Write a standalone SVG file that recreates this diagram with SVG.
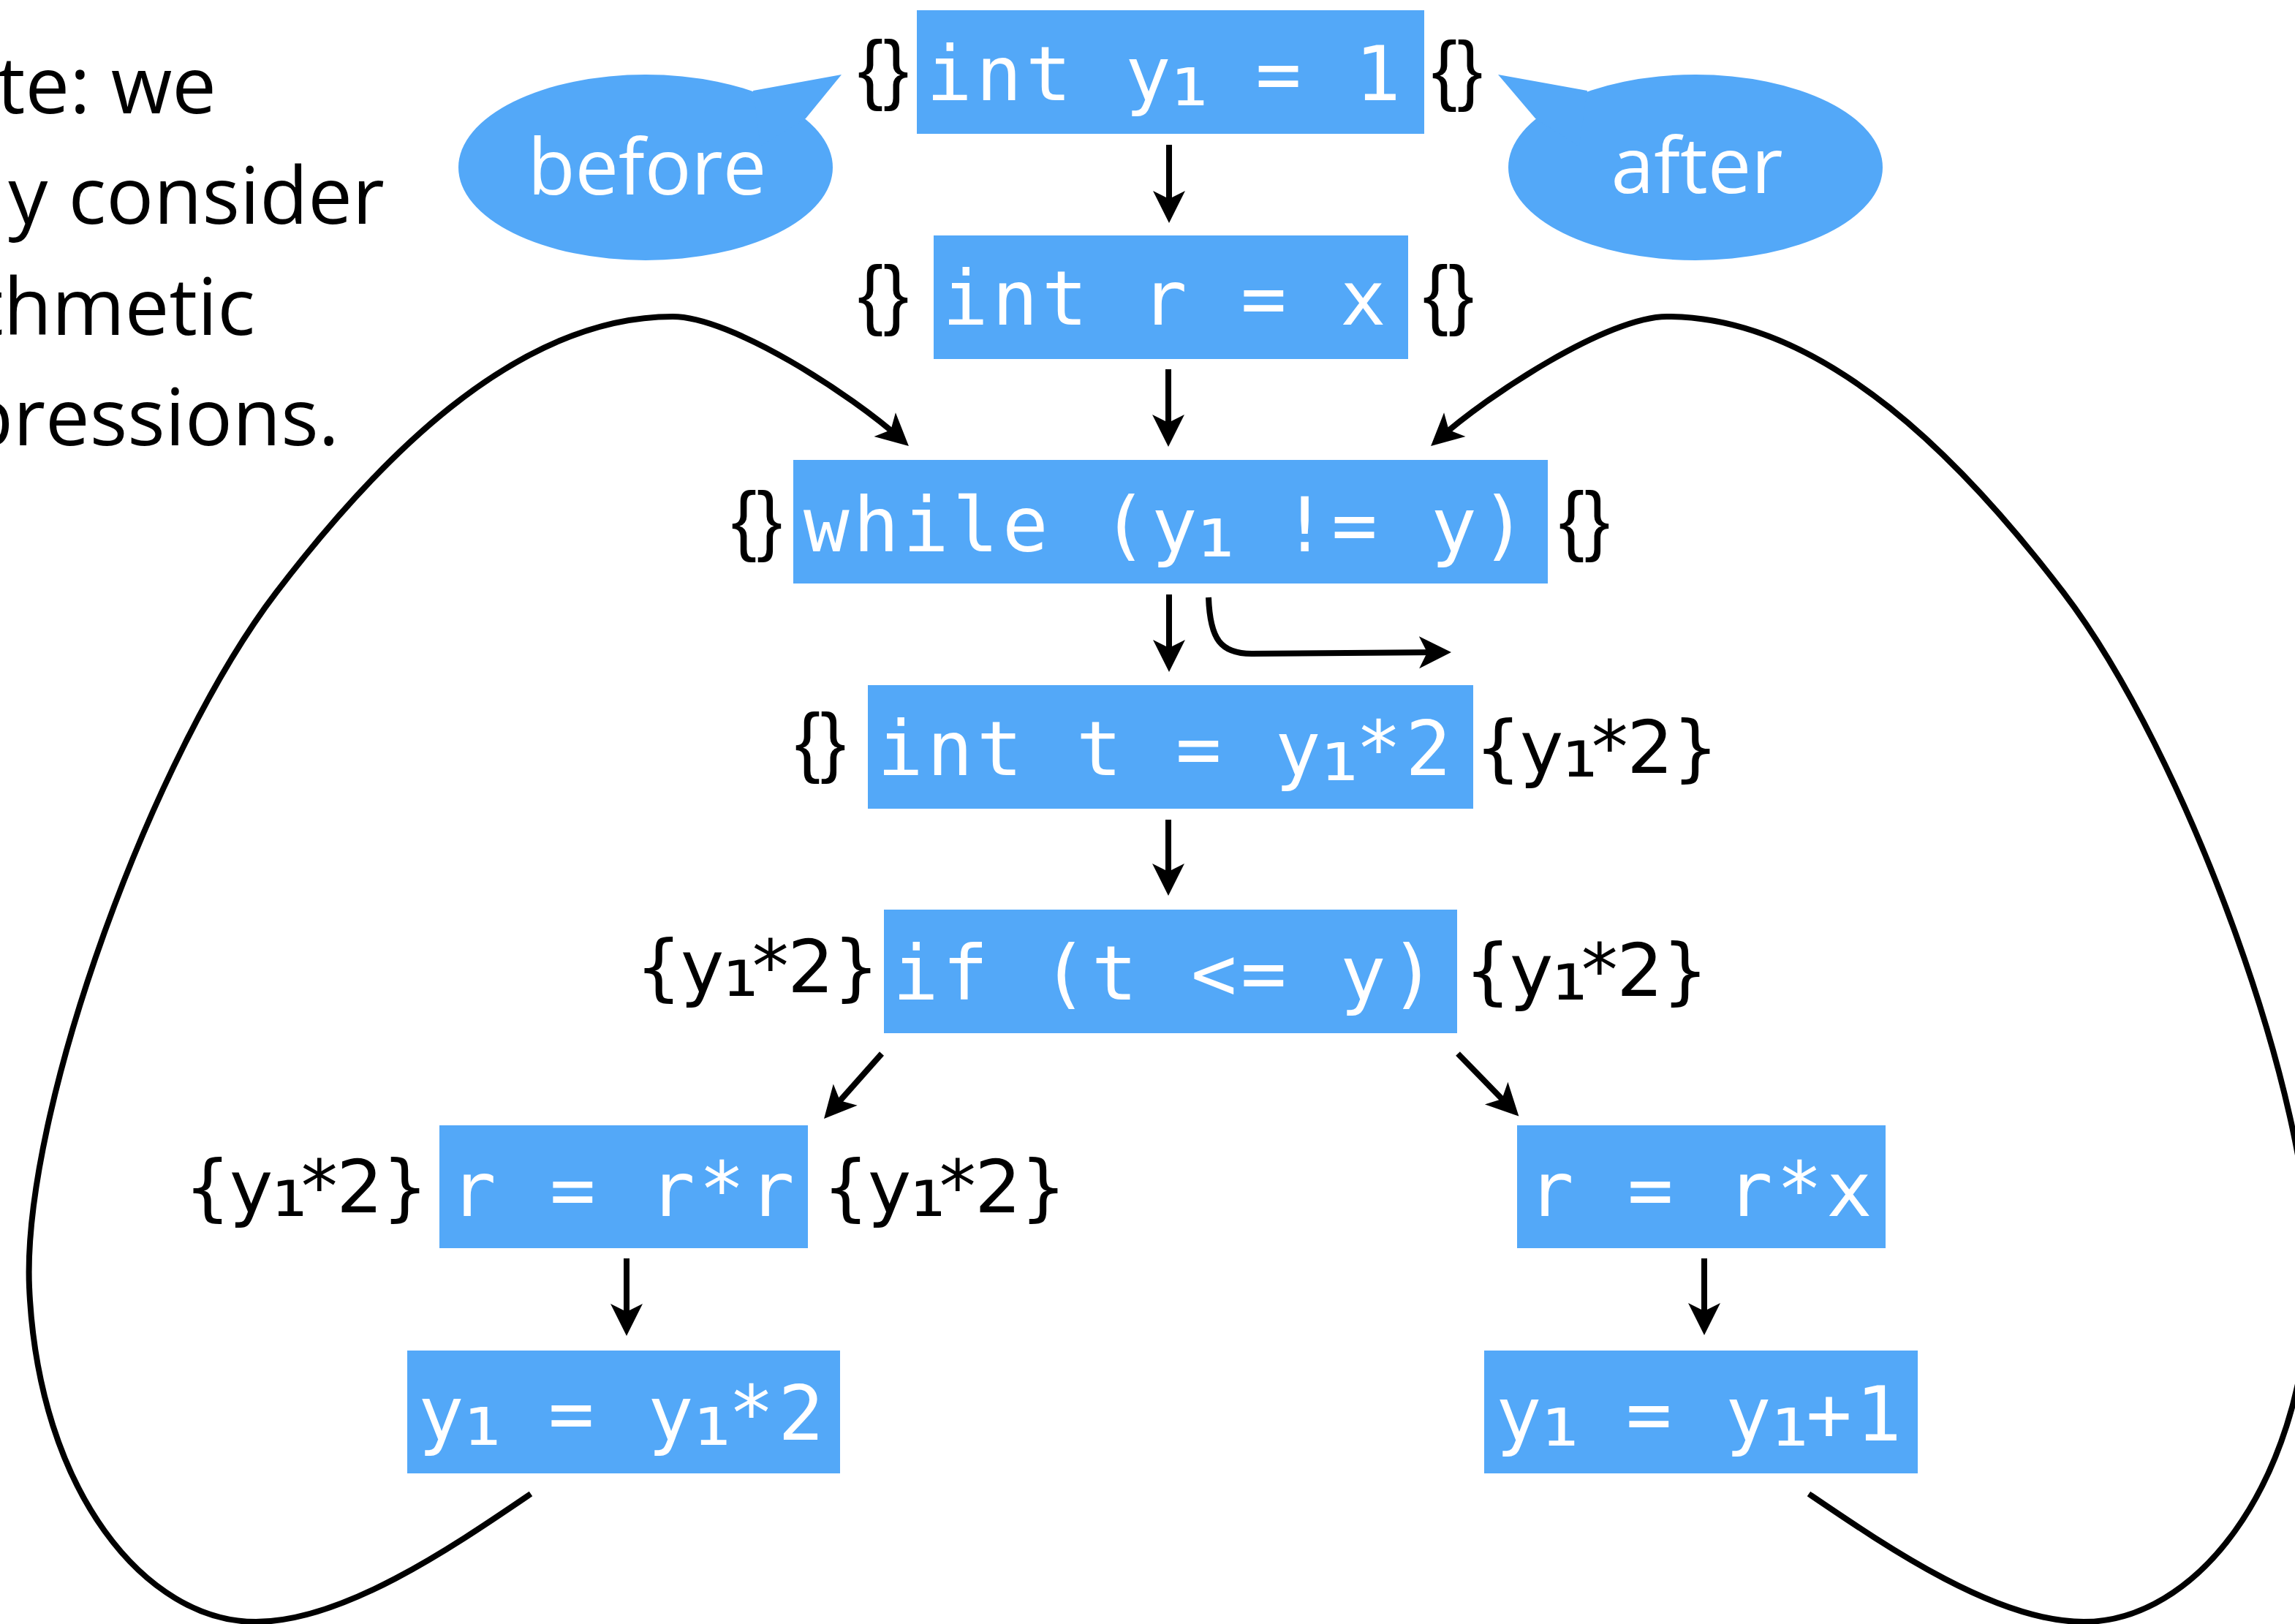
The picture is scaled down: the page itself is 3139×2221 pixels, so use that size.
<svg xmlns="http://www.w3.org/2000/svg" width="3139" height="2221" viewBox="0 0 3139 2221">
<style>
.bg{fill:#ffffff}
.box{fill:#53a8f8}
.code{font-family:"DejaVu Sans Mono",monospace;font-size:104px;fill:#ffffff;letter-spacing:5.4px}
.sub{font-size:128px;letter-spacing:-17px}
.ann{font-family:"DejaVu Sans",sans-serif;font-size:100px;fill:#000000;letter-spacing:-1.5px}
.asub{font-size:122px;letter-spacing:-9px}
.emp{font-family:"Liberation Sans",Arial,sans-serif;font-size:105px;fill:#000000}
.note{font-family:"Open Sans",sans-serif;font-size:108px;fill:#000000;text-anchor:end}
.bub{fill:#53a8f8}
.bubt{font-family:"Open Sans",sans-serif;font-size:106px;fill:#ffffff;text-anchor:middle}
.edge{fill:none;stroke:#000000;stroke-width:8;marker-end:url(#ah)}
.loop{fill:none;stroke:#000000;stroke-width:8;marker-end:url(#ah)}
</style>
<defs>
<marker id="ah" markerUnits="userSpaceOnUse" viewBox="-40 -30 60 60" markerWidth="60" markerHeight="60" refX="0" refY="0" orient="auto" overflow="visible">
<path d="M12,0 L-32,-22 L-21,0 L-32,22 Z" fill="#000000"/>
</marker>
</defs>
<rect class="bg" x="0" y="0" width="3139" height="2221"/>

<g id="note">
<text class="note" x="296" y="155">te: we</text>
<text class="note" x="526" y="306">y consider</text>
<text class="note" x="349" y="458">thmetic</text>
<text class="note" x="464" y="609">pressions.</text>
</g>

<g id="bubble-before">
<ellipse class="bub" cx="883" cy="229" rx="256" ry="127"/>
<polygon class="bub" points="1030,124 1151,102 1102,162 1040,200"/>
<text class="bubt" x="885" y="266">before</text>
</g>
<g id="bubble-after">
<ellipse class="bub" cx="2319" cy="229" rx="256" ry="127"/>
<polygon class="bub" points="2171,124 2049,102 2100,162 2160,200"/>
<text class="bubt" x="2321" y="264">after</text>
</g>

<g id="n1">
<rect class="box" x="1254" y="14" width="694" height="169"/>
<text class="code" x="1267" y="137">int y<tspan class="sub" dx="-18" baseline-shift="-7">₁</tspan> = 1</text>
<text class="emp" x="1173" y="130">{}</text>
<text class="emp" x="1958" y="131">{}</text>
</g>
<g id="n2">
<rect class="box" x="1277" y="322" width="649" height="169"/>
<text class="code" x="1289" y="444">int r = x</text>
<text class="emp" x="1173" y="438">{}</text>
<text class="emp" x="1946" y="438">{}</text>
</g>
<g id="n3">
<rect class="box" x="1085" y="629" width="1032" height="169"/>
<text class="code" x="1099" y="754">while (y<tspan class="sub" dx="-18" baseline-shift="-7">₁</tspan> != y)</text>
<text class="emp" x="1000" y="747">{}</text>
<text class="emp" x="2132" y="747">{}</text>
</g>
<g id="n4">
<rect class="box" x="1187" y="937" width="828" height="169"/>
<text class="code" x="1200" y="1060">int t = y<tspan class="sub" dx="-18" baseline-shift="-7">₁</tspan>*2</text>
<text class="emp" x="1087" y="1050">{}</text>
<text class="ann" x="2017" y="1057">{y<tspan class="asub" baseline-shift="-5">₁</tspan>*2}</text>
</g>
<g id="n5">
<rect class="box" x="1209" y="1244" width="784" height="169"/>
<text class="code" x="1221" y="1367">if (t &lt;= y)</text>
<text class="ann" x="869" y="1357">{y<tspan class="asub" baseline-shift="-5">₁</tspan>*2}</text>
<text class="ann" x="2003" y="1362">{y<tspan class="asub" baseline-shift="-5">₁</tspan>*2}</text>
</g>
<g id="n6">
<rect class="box" x="601" y="1539" width="504" height="168"/>
<text class="code" x="616" y="1663">r = r*r</text>
<text class="ann" x="252" y="1658">{y<tspan class="asub" baseline-shift="-5">₁</tspan>*2}</text>
<text class="ann" x="1125" y="1658">{y<tspan class="asub" baseline-shift="-5">₁</tspan>*2}</text>
</g>
<g id="n7">
<rect class="box" x="2075" y="1539" width="504" height="168"/>
<text class="code" x="2090" y="1663">r = r*x</text>
</g>
<g id="n8">
<rect class="box" x="557" y="1847" width="592" height="168"/>
<text class="code" x="572" y="1969">y<tspan class="sub" dx="-18" baseline-shift="-7">₁</tspan> = y<tspan class="sub" dx="-18" baseline-shift="-7">₁</tspan>*2</text>
</g>
<g id="n9">
<rect class="box" x="2030" y="1847" width="593" height="168"/>
<text class="code" x="2046" y="1970">y<tspan class="sub" dx="-18" baseline-shift="-7">₁</tspan> = y<tspan class="sub" dx="-18" baseline-shift="-7">₁</tspan>+1</text>
</g>

<g id="connectors">
<path class="edge" d="M1599,198 L1599,293"/>
<path class="edge" d="M1598,505 L1598,599"/>
<path class="edge" d="M1599,813 L1599,907"/>
<path class="edge" d="M1653,817 C1655,875 1670,894 1712,894 L1973,892"/>
<path class="edge" d="M1598,1121 L1598,1213"/>
<path class="edge" d="M1206,1441 L1135,1521"/>
<path class="edge" d="M1994,1441 L2069,1518"/>
<path class="edge" d="M857,1721 L857,1815"/>
<path class="edge" d="M2331,1721 L2331,1814"/>
<path class="loop" d="M726,2043 C620,2115 470,2218 350,2218 C200,2218 52,2040 40,1760 C30,1520 209,1031 378,810 C508,640 700,433 920,433 C1000,433 1164,539 1234,602"/>
<path class="loop" d="M2474,2043 C2580,2115 2730,2218 2850,2218 C3000,2218 3148,2040 3160,1760 C3170,1520 2991,1031 2822,810 C2692,640 2500,433 2280,433 C2200,433 2036,539 1966,602"/>
</g>
</svg>
